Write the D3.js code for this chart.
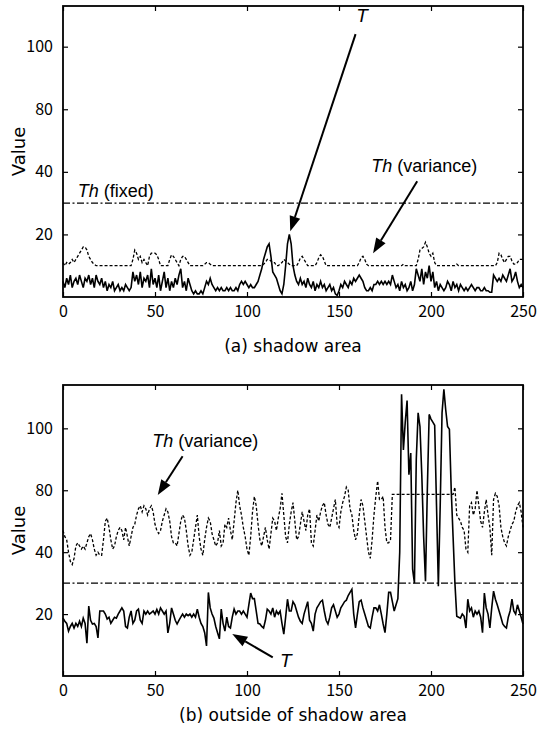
<!DOCTYPE html>
<html><head><meta charset="utf-8">
<script src="https://cdn.jsdelivr.net/npm/d3@7"></script>
<style>body{margin:0;background:#fff} svg{display:block}</style>
</head><body>
<svg id="c" width="540" height="731"></svg>
<script>
const xTickValues = [0,50,100,150,200,250];
const yTickValues = [20,40,60,80];
const yTickLabels = ["20","40","80","100"];
const thFixed = 30;
const captions = ["(a) shadow area", "(b) outside of shadow area"];

const topT = [
5,3,6,4,7,3,5,6,4,7, 5,3,6,5,7,4,6,3,7,5, 4,6,3,5,2,4,3,5,2,3, 4,2,3,2,4,3,2,3,8,5,
7,4,8,3,6,5,7,3,9,4, 6,3,7,2,5,8,3,6,2,5, 3,6,4,7,9,3,5,2,6,4, 2,1,2,1,1,2,1,3,5,4,
6,4,3,2,3,2,3,2,2,3, 2,3,2,2,3,2,4,5,4,5, 4,3,4,3,3,4,5,7,9,12, 14,16,17,13,8,7,6,4,2,1,
4,10,17,20,17,10,7,5,4,6, 4,5,3,6,4,3,5,2,4,3, 5,3,4,2,3,4,2,3,1,0.5, 2,4,3,5,4,3,5,4,6,5,
6,7,6,5,3,2,2,3,2,4, 4,5,4,5,4,5,4,5,4,7, 5,3,4,2,5,3,4,2,3,5, 2,4,9,7,5,9,4,8,6,10,
5,8,3,5,2,4,3,2,3,5, 4,2,5,3,4,2,4,3,2,3, 2,3,4,3,2,3,3,2,2,3, 2,2,1.5,1.5,7,6,5,6,5,7,
6,5,7,9,5,6,8,5,3,4, 3];

const topTh = [
11,10,11,10.5,11,12,11,12,13,14, 15,16,16,15,13,12,11,10.5,10,10, 10,10,10,10,10,10,10,10,10,10,
10,10,10,10,10,10,10,10,12,15, 14,12,13,11,12,11,10,13,14,14, 14,13.5,12,10,10,10,10,10,12,13.5,
13,12,11,10,12,13,13,12,11,10, 10,10,10,10,10,10,10,10.5,11,11, 10.5,10,10,10,10,10,10,10,10,10,
10,10,10,10,10,10,10,10,10,10, 10,10,10,10,10,10,10,10,10,10.5, 11,12,12,11.5,11,11,10,10,10.5,11,
12,11.5,11,10.5,10,10,10,10,11,12.5, 13,12,11,10,10,10,10,10,11,12.5, 13.5,13,11.5,10,10,10,10,10,10,10,
10,10,10,10,10,10,10,10,10,10, 10,11,12.5,13,12,10.5,10,10,10,10, 10,10,10,10,10,10,10,10,10,10,
10,10,10,10,10,10.5,10,10,10,10, 10,10,10,12,15,15.5,16,17.5,16,14, 13,14,11,10,10,10,10,10,10,10,
10,10,10,10,10.5,10,10,10,10,10, 10,10,10,10,10,10,10,10,10,10, 10,10,10,10,10,10,11,14,13.5,12,
11,12,13,13,11.5,10.5,10.5,11,12,12, 12];

const botT = [
18.7,17.7,17,14.5,16,17,15.5,17,16,17.7, 16,18.7,17,10.6,22.6,18,16.8,17,16,12.3,
21,21,21,20,18.4,19,17,18,19,18.7, 20,21,22,21,16,15.5,19,21,17,18,
21,21.6,18,17,21,20,21,20,20.5,21, 20,21.5,20,22,21,20,21,13.9,17,22,
20,18,16.8,18,19,20,19,20,19.5,20, 19,20,19,21.6,19,17,16,14,9.7,27,
22,20,18.7,16,14,12,21.6,17,14.5,19, 16,15.5,19,21.6,20,21,21,20,21,20,
19,23,26.8,25,25,21,17,16.8,16,15.5, 18,21.6,21,20,22,19,21,20,21,17,
13.5,19,24.8,21,21,24,23,21,19,17.7, 17,20,22,24,18,17,14.5,20,22,23,
24,24.5,21,18,16.8,19,22,23,21,19, 20,22,23,24,24.5,26,27,28,20,15.5,
20,24,24.5,22,20,18,16,15.5,19,22, 22,21,23,20,16.8,14,20,27,27,24,
21,23,25,40,91,73,82,89,65,72, 34.5,30,70,85,80.6,65,45,30.6,60,84.5,
83,82,81,55,29,55,85,92.6,86,80.6, 79.7,60,45,30,19.3,19,18.7,20,19.3,15.5,
24.8,21,22,19,21,20,21,19,14,26.8, 22,20,15.5,22,27.4,24.8,23,21,19,16.8,
16,15.5,19,21,24.8,21,20,23,21,19, 16.8];

const botTh = [
47,45,44,40,37,36,38,42,43,42, 41,42,41,43,45,46,44,41,39,40, 39,39,44,50,51,48,44,41,42,45,
47,48,47,44,48,45,42,45,48,49, 52,54,55,53,55,54,52,54,55,53, 49,47,46,47,50,52,54,53,50,45,
43,43,42,46,50,52,51,47,42,39, 40,44,48,52,45,41,39,44,48,51, 50,46,44,42,43,47,42,43,49,48,
51,47,44,50,56,60,55,52,48,45, 41,39,45,53,58,55,49,44,42,45, 48,44,41,46,51,50,47,51,54,59,
52,45,43,49,53,56,50,44,45,49, 53,50,47,52,54,43,42,47,52,50, 53,55,56,52,49,48,51,54,57,49,
48,53,56,58,61,60,54,52,47,44, 46,52,57,55,50,45,40,38,44,52, 58,63,57,57,58,48,43,43,44,58.7,
58.7,58.7,58.7,58.7,58.7,58.7,58.7,58.7,58.7,58.7, 58.7,58.7,58.7,58.7,58.7,58.7,58.7,58.7,58.7,58.7,
58.7,58.7,58.7,58.7,58.7,58.7,58.7,58.7,58.7,58.7, 58.7,58.7,58.7,61,52,51,50,48,47,41,
40,55,56,52,54,60,55,50,48,53, 57,52,48,39,57,59,58,55,48,45, 43,42,45,47,49,50,53,55,56,53, 48];

// annotations in data units: [index, value]
const topAnn = {
  tLabel:[162.5,88], tTail:[159,84], tTip:[123.5,21],
  fixedLabel:[8,32],
  varLabel:[167.5,40], varTail:[192.5,37], varTip:[168.5,14]
};
const botAnn = {
  varLabel:[48.5,74], varTail:[65,71], varTip:[51.5,58.5],
  tLabel:[118,3], tTail:[114,6], tTip:[92,13.6]
};

const svg = d3.select("#c");
const numFont = "'Noto Sans CJK JP', 'Noto Sans', sans-serif";
const capFont = "'DejaVu Sans', 'Noto Sans', sans-serif";
const latFont = "'Liberation Sans', Arial, sans-serif";

function arrow(g, x, y, tail, tip){
  const x1=x(tail[0]), y1=y(tail[1]), x2=x(tip[0]), y2=y(tip[1]);
  const a=Math.atan2(y2-y1,x2-x1), L=15, W=5.5;
  const bx=x2-L*Math.cos(a), by=y2-L*Math.sin(a);
  g.append("line").attr("x1",x1).attr("y1",y1).attr("x2",bx).attr("y2",by)
    .attr("stroke","#000").attr("stroke-width",2);
  g.append("path").attr("d",`M${x2},${y2}L${bx+W*Math.sin(a)},${by-W*Math.cos(a)}L${bx-W*Math.sin(a)},${by+W*Math.cos(a)}Z`)
    .attr("fill","#000");
}
function thText(g, x, y, pos, rest){
  const t=g.append("text").attr("x",x(pos[0])).attr("y",y(pos[1]))
    .attr("font-family",latFont).attr("font-size",18).attr("fill","#000");
  t.append("tspan").attr("font-style","italic").text("Th");
  t.append("tspan").text(rest);
}

function panel(top, bottom, yMax, T, Th, caption, capY){
  const left=63, right=523;
  const x=d3.scaleLinear().domain([0,250]).range([left,right]);
  const y=d3.scaleLinear().domain([0,yMax]).range([bottom,top]);
  const g=svg.append("g");
  const tl=5;
  g.append("g").attr("transform",`translate(0,${bottom})`)
    .call(d3.axisBottom(x).tickValues(xTickValues).tickSize(-tl).tickPadding(9).tickFormat(d3.format("d")))
    .call(s=>{s.select(".domain").remove(); s.selectAll("text").attr("font-family",numFont).attr("font-size",16).attr("fill","#000");});
  g.append("g").attr("transform",`translate(0,${top})`)
    .call(d3.axisTop(x).tickValues(xTickValues).tickSize(-tl).tickFormat(""))
    .call(s=>s.select(".domain").remove());
  g.append("g").attr("transform",`translate(${left},0)`)
    .call(d3.axisLeft(y).tickValues(yTickValues).tickSize(-tl).tickPadding(10).tickFormat((d,i)=>yTickLabels[i]))
    .call(s=>{s.select(".domain").remove(); s.selectAll("text").attr("font-family",numFont).attr("font-size",16).attr("fill","#000");});
  g.append("g").attr("transform",`translate(${right},0)`)
    .call(d3.axisRight(y).tickValues(yTickValues).tickSize(-tl).tickFormat(""))
    .call(s=>s.select(".domain").remove());
  g.selectAll(".tick line").attr("stroke","#000").attr("stroke-width",1.2);

  const line=d3.line().x((d,i)=>x(i)).y(d=>y(d));
  g.append("line").attr("x1",left).attr("x2",right).attr("y1",y(thFixed)).attr("y2",y(thFixed))
    .attr("stroke","#000").attr("stroke-width",1.2).attr("stroke-dasharray","7,2.5,2,2.5");
  g.append("path").datum(Th).attr("d",line).attr("fill","none").attr("stroke","#000")
    .attr("stroke-width",1.3).attr("stroke-dasharray","3,2");
  g.append("path").datum(T).attr("d",line).attr("fill","none").attr("stroke","#000")
    .attr("stroke-width",1.6).attr("stroke-linejoin","miter");
  g.append("rect").attr("x",left).attr("y",top).attr("width",right-left).attr("height",bottom-top)
    .attr("fill","none").attr("stroke","#000").attr("stroke-width",1.8);

  g.append("text").attr("transform",`translate(20,${(top+bottom)/2}) rotate(-90)`)
    .attr("text-anchor","middle").attr("dominant-baseline","middle")
    .attr("font-family",capFont).attr("font-size",18).attr("fill","#000").text("Value");
  g.append("text").attr("x",(left+right)/2).attr("y",capY)
    .attr("text-anchor","middle").attr("dominant-baseline","middle")
    .attr("font-family",capFont).attr("font-size",17).attr("fill","#000").text(caption);
  return {g,x,y};
}

const p1=panel(6,297,93,topT,topTh,captions[0],347);
{
  const {g,x,y}=p1;
  g.append("text").attr("x",x(topAnn.tLabel[0])).attr("y",y(topAnn.tLabel[1]))
    .attr("text-anchor","middle").attr("font-family",latFont).attr("font-style","italic")
    .attr("font-size",19).text("T");
  arrow(g,x,y,topAnn.tTail,topAnn.tTip);
  thText(g,x,y,topAnn.fixedLabel," (fixed)");
  thText(g,x,y,topAnn.varLabel," (variance)");
  arrow(g,x,y,topAnn.varTail,topAnn.varTip);
}
const p2=panel(385,676,94,botT,botTh,captions[1],716);
{
  const {g,x,y}=p2;
  thText(g,x,y,botAnn.varLabel," (variance)");
  arrow(g,x,y,botAnn.varTail,botAnn.varTip);
  g.append("text").attr("x",x(botAnn.tLabel[0])).attr("y",y(botAnn.tLabel[1]))
    .attr("font-family",latFont).attr("font-style","italic")
    .attr("font-size",19).text("T");
  arrow(g,x,y,botAnn.tTail,botAnn.tTip);
}
</script>
</body></html>
